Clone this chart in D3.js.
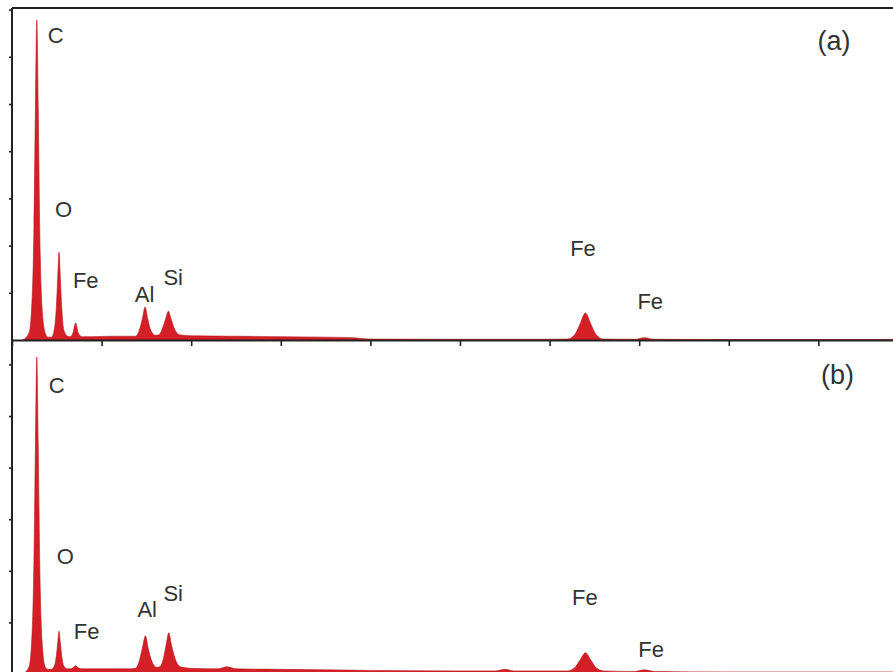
<!DOCTYPE html>
<html>
<head>
<meta charset="utf-8">
<script src="https://cdn.jsdelivr.net/npm/d3@7"></script>
<style>
  body { margin: 0; background: #fff; }
  svg { display: block; }
  .spec { fill: #d41f27; stroke: #b5161d; stroke-width: 0.6; }
  .axis path, .axis line { stroke: #222; }
  .axis path { stroke-width: 2; }
  .axis line { stroke-width: 1.6; }
  .lbl { font-family: "Liberation Sans", Arial, sans-serif; font-size: 22px; fill: #333; }
  .pname { font-size: 27px; }
</style>
</head>
<body>
<div id="plotDiv"></div>
<script>
// energy (keV) vs counts
var energyA = [0.12, 0.19, 0.22, 0.245, 0.262, 0.277, 0.292, 0.309, 0.335, 0.37, 0.40,
               0.44, 0.47, 0.495, 0.51, 0.525, 0.54, 0.555, 0.58, 0.62,
               0.65, 0.68, 0.71, 0.74, 0.78, 0.9, 1.1, 1.3,
               1.38, 1.42, 1.455, 1.486, 1.515, 1.55, 1.6,
               1.64, 1.68, 1.715, 1.745, 1.775, 1.81, 1.87,
               2.0, 2.5, 3.0, 3.5, 3.8, 4.0, 5.0, 5.9,
               6.2, 6.28, 6.34, 6.40, 6.46, 6.52, 6.6,
               6.95, 7.06, 7.17, 8.0, 9.83];
var countsA = [0, 150, 700, 2400, 5000, 6780, 5000, 2400, 700, 150, 60,
               60, 200, 700, 1300, 1860, 1300, 700, 200, 80,
               70, 150, 360, 150, 70, 70, 80, 80,
               80, 200, 450, 700, 450, 200, 100,
               110, 250, 450, 610, 450, 250, 110,
               90, 80, 70, 60, 50, 20, 15, 15,
               20, 110, 340, 570, 340, 110, 20,
               15, 50, 15, 10, 10];

var energyB = [0.12, 0.19, 0.22, 0.245, 0.262, 0.277, 0.292, 0.309, 0.335, 0.37, 0.40,
               0.44, 0.47, 0.495, 0.51, 0.525, 0.54, 0.555, 0.58, 0.62,
               0.65, 0.68, 0.71, 0.74, 0.78, 0.9, 1.1, 1.3,
               1.38, 1.42, 1.455, 1.49, 1.52, 1.56, 1.61,
               1.65, 1.69, 1.72, 1.75, 1.78, 1.82, 1.88,
               2.0, 2.3, 2.4, 2.5, 3.0, 3.5, 4.0, 5.0, 5.4, 5.5, 5.6, 6.0,
               6.2, 6.28, 6.34, 6.40, 6.46, 6.52, 6.6,
               6.95, 7.06, 7.17, 8.0, 9.83];
var countsB = [0, 140, 650, 2200, 4500, 6140, 4500, 2200, 650, 140, 90,
               90, 150, 350, 600, 830, 600, 350, 150, 100,
               100, 120, 160, 120, 100, 100, 100, 100,
               110, 250, 500, 740, 500, 250, 130,
               140, 300, 560, 800, 560, 300, 140,
               110, 100, 140, 100, 90, 80, 70, 60, 60, 90, 60, 60,
               60, 120, 270, 410, 270, 120, 60,
               50, 80, 50, 40, 40];

var energyTicks = [0, 1, 2, 3, 4, 5, 6, 7, 8, 9];
var countTicks = [1000, 2000, 3000, 4000, 5000, 6000, 7000];

// element labels: text, energy at label start, count at label baseline
var labelText = ["C", "O", "Fe", "Al", "Si", "Fe", "Fe"];
var labelEnergyA = [0.40, 0.48, 0.68, 1.37, 1.69, 6.23, 6.98];
var labelCountA = [6290, 2600, 1100, 800, 1160, 1780, 660];
var labelEnergyB = [0.41, 0.50, 0.69, 1.40, 1.69, 6.25, 6.99];
var labelCountB = [5450, 2130, 680, 1100, 1420, 1340, 330];
var panelNames = ["(a)", "(b)"];
var panelNameEnergy = [8.99, 9.03];
var panelNameCount = [6150, 5620];

var W = 893, H = 672;
var left = 12, right = 893;

var svg = d3.select("#plotDiv").append("svg")
    .attr("width", W)
    .attr("height", H);

var x = d3.scaleLinear().domain([0, 9.833]).range([left, right]);

var panels = [
    {top: 8, base: 340, ymax: 7034, e: energyA, c: countsA,
     le: labelEnergyA, lc: labelCountA},
    {top: 340, base: 674, ymax: 6473, e: energyB, c: countsB,
     le: labelEnergyB, lc: labelCountB}
];

panels.forEach(function(p, i) {
    var y = d3.scaleLinear().domain([0, p.ymax]).range([p.base, p.top]);
    var pts = p.e.map(function(d, k) { return [d, p.c[k]]; });

    var area = d3.area()
        .x(function(d) { return x(d[0]); })
        .y0(y(0))
        .y1(function(d) { return y(d[1]); })
        .curve(d3.curveMonotoneX);

    svg.append("path")
        .datum(pts)
        .attr("class", "spec")
        .attr("d", area);

    svg.selectAll(".lbl" + i)
        .data(labelText)
        .enter()
        .append("text")
        .attr("class", "lbl lbl" + i)
        .attr("x", function(d, k) { return x(p.le[k]); })
        .attr("y", function(d, k) { return y(p.lc[k]); })
        .text(function(d) { return d; });

    svg.append("text")
        .attr("class", "lbl pname")
        .attr("x", x(panelNameEnergy[i]))
        .attr("y", y(panelNameCount[i]))
        .text(panelNames[i]);

    svg.append("g")
        .attr("class", "axis")
        .attr("transform", "translate(" + left + ",0)")
        .call(d3.axisLeft(y).tickValues(countTicks.filter(function(t) { return t < p.ymax; }))
            .tickSize(3).tickFormat(""))
        .select(".domain").remove();

    svg.append("g")
        .attr("class", "axis")
        .attr("transform", "translate(0," + p.base + ")")
        .call(d3.axisBottom(x).tickValues(energyTicks).tickSizeInner(6).tickSizeOuter(0).tickFormat(""));
});

// frame: top border and left axis line
svg.append("line").attr("x1", left).attr("x2", right).attr("y1", 8).attr("y2", 8)
    .attr("stroke", "#222").attr("stroke-width", 2);
svg.append("line").attr("x1", left).attr("x2", left).attr("y1", 8).attr("y2", H)
    .attr("stroke", "#222").attr("stroke-width", 2);
</script>
</body>
</html>
